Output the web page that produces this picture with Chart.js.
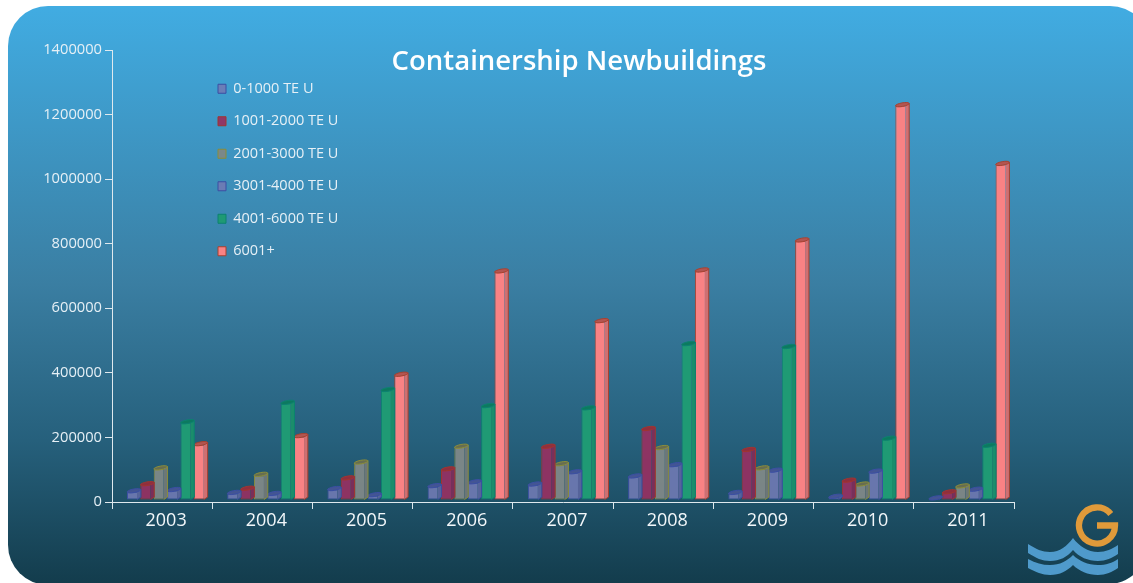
<!DOCTYPE html>
<html><head><meta charset="utf-8">
<style>
html,body{margin:0;padding:0;background:#fff;width:1133px;height:583px;overflow:hidden}
#card{position:absolute;left:8px;top:6px;width:1142px;height:579px;border-radius:40px 40px 45px 40px;background:linear-gradient(180deg,#41ace2 0%,#3a7ea2 48%,#26607c 75%,#133c4c 100%)}
#logo{position:absolute;left:0;top:0}
canvas{position:absolute;left:0;top:0}
</style></head><body>
<div id="card"></div>
<svg id="logo" width="1133" height="583" viewBox="0 0 1133 583">
<path d="M1110.8 513.9A18 18 0 1 0 1115 525.5L1097 525.5" fill="none" stroke="#e09a3a" stroke-width="6.3"/>
<path d="M1028 544C1036 549 1042 552 1050 552C1060 552 1067 546 1073 538C1079 546 1088 552 1098 552C1106 552 1112 549 1118 545L1118 554C1112 558 1106 561 1098 561C1088 561 1079 557 1073 550C1067 557 1060 561 1050 561C1042 561 1036 558 1028 553Z" fill="#4f9acb"/>
<path d="M1028 559C1036 563 1042 565 1050 565C1060 565 1067 561 1073 555C1079 561 1088 565 1098 565C1106 565 1112 563 1118 559L1118 568C1112 572 1106 575 1098 575C1088 575 1079 571 1073 565C1067 571 1060 575 1050 575C1042 575 1036 572 1028 568Z" fill="#4f9acb"/>
</svg>
<canvas id="c" width="1133" height="583"></canvas>
<script src="https://cdn.jsdelivr.net/npm/chart.js@4/dist/chart.umd.min.js"></script>
<script>
const years = ['2003','2004','2005','2006','2007','2008','2009','2010','2011'];
const teu0to1000    = [26000,21000,33000,42000,47000,72000,21000,9000,4000];
const teu1001to2000 = [48000,34000,66000,94000,164000,219000,154000,59000,23000];
const teu2001to3000 = [97000,77000,115000,164000,110000,160000,97000,47000,41000];
const teu3001to4000 = [30000,18000,14000,54000,85000,107000,90000,87000,31000];
const teu4001to6000 = [240000,300000,340000,290000,283000,482000,473000,189000,167000];
const teu6001plus   = [172000,197000,387000,707000,553000,710000,803000,1222000,1040000];
const chartTitle = 'Containership Newbuildings';
const FONT = '"Open Sans"';

function ds(label,data,fill,stroke,side,top){
  return {label,data,backgroundColor:fill,borderColor:stroke,borderWidth:1,borderSkipped:'right',
    sideColor:side,topColor:top,categoryPercentage:0.8,barPercentage:0.75};
}
const SHIFT_X=3.3, SHIFT_Y=-2, DEPTH=3.8, RISE=2.4;

const bars3d={
  id:'bars3d',
  beforeDatasetDraw(chart,args){
    const ctx=chart.ctx, d=chart.data.datasets[args.index];
    ctx.save();
    ctx.translate(SHIFT_X,SHIFT_Y);
    args.meta.data.forEach(el=>{
      const p=el.getProps(['x','y','base','width'],true), r=p.x+p.width/2;
      ctx.beginPath();
      ctx.moveTo(r,p.y);ctx.lineTo(r+DEPTH,p.y-RISE);ctx.lineTo(r+DEPTH,p.base-RISE);ctx.lineTo(r,p.base);ctx.closePath();
      ctx.fillStyle=d.sideColor;ctx.fill();
      ctx.beginPath();
      ctx.moveTo(r+DEPTH,p.y-RISE);ctx.lineTo(r+DEPTH,p.base-RISE);ctx.lineTo(r,p.base);
      ctx.strokeStyle=d.borderColor;ctx.lineWidth=1;ctx.stroke();
    });
  },
  afterDatasetDraw(chart,args){
    const ctx=chart.ctx, d=chart.data.datasets[args.index];
    args.meta.data.forEach(el=>{
      const p=el.getProps(['x','y','base','width'],true);
      ctx.beginPath();
      ctx.ellipse(p.x+DEPTH/2,p.y-RISE/2+0.4,(p.width+DEPTH)/2,1.8,-0.18,0,Math.PI*2);
      ctx.fillStyle=d.topColor;ctx.strokeStyle=d.borderColor;ctx.lineWidth=1;ctx.fill();ctx.stroke();
    });
    ctx.restore();
  }
};
const placeBoxes={
  id:'placeBoxes',
  afterLayout(chart){
    const l=chart.legend;
    const w=l.width,h=l.height;
    l.left=200;l.right=200+w;l.top=63.5;l.bottom=63.5+h;
    const t=chart.titleBlock;
    t.left=379;t.right=779;t.top=45.5;t.bottom=45.5+t.height;
  }
};
new Chart(document.getElementById('c'),{
  type:'bar',
  plugins:[bars3d,placeBoxes],
  data:{labels:years,datasets:[
    ds('0-1000 TE U',teu0to1000,'rgba(112,122,180,.9)','#3b4fa3','rgba(92,102,160,.9)','rgba(70,85,150,.95)'),
    ds('1001-2000 TE U',teu1001to2000,'rgba(148,50,98,.95)','#a2352f','rgba(125,45,90,.95)','rgba(150,45,60,.95)'),
    ds('2001-3000 TE U',teu2001to3000,'rgba(125,135,135,.97)','#8b8d3a','rgba(110,120,120,.97)','rgba(105,110,80,.97)'),
    ds('3001-4000 TE U',teu3001to4000,'rgba(112,122,180,.9)','#3b4fa3','rgba(92,102,160,.9)','rgba(70,85,150,.95)'),
    ds('4001-6000 TE U',teu4001to6000,'#1f9a74','#0c8270','#1b8d6b','#0c7a5f'),
    ds('6001+',teu6001plus,'#f98284','#a8412f','#cf6f72','#b25551')
  ]},
  options:{
    responsive:false,animation:false,
    layout:{padding:{top:0,left:0,right:119,bottom:0}},
    plugins:{
      tooltip:{enabled:false},
      title:{display:true,text:chartTitle,color:'#fff',font:{family:FONT,size:27.5,weight:'600'},padding:{top:0,bottom:50-27.5*1.2}},
      legend:{display:true,position:'chartArea',align:'start',onClick:null,
        labels:{boxWidth:8,boxHeight:9,padding:18,color:'#e6f0f6',font:{family:FONT,size:14.5}}}
    },
    scales:{
      x:{offset:true,
        afterFit(s){s.height=81},
        border:{color:'#dfe9ee',width:1},
        grid:{display:true,offset:true,drawOnChartArea:false,color:'#dfe9ee',tickLength:7,drawTicks:true},
        ticks:{color:'#f2f7fa',font:{family:FONT,size:18},padding:1,labelOffset:4,maxRotation:0,autoSkip:false}},
      y:{min:0,max:1400000,
        afterFit(s){s.width=112},
        border:{color:'#dfe9ee',width:1},
        grid:{display:true,drawOnChartArea:false,color:'#dfe9ee',tickLength:7},
        ticks:{stepSize:200000,color:'#e6f0f6',font:{family:FONT,size:14.7},padding:3,callback:v=>String(v)}}
    }
  }
});
</script></body></html>
